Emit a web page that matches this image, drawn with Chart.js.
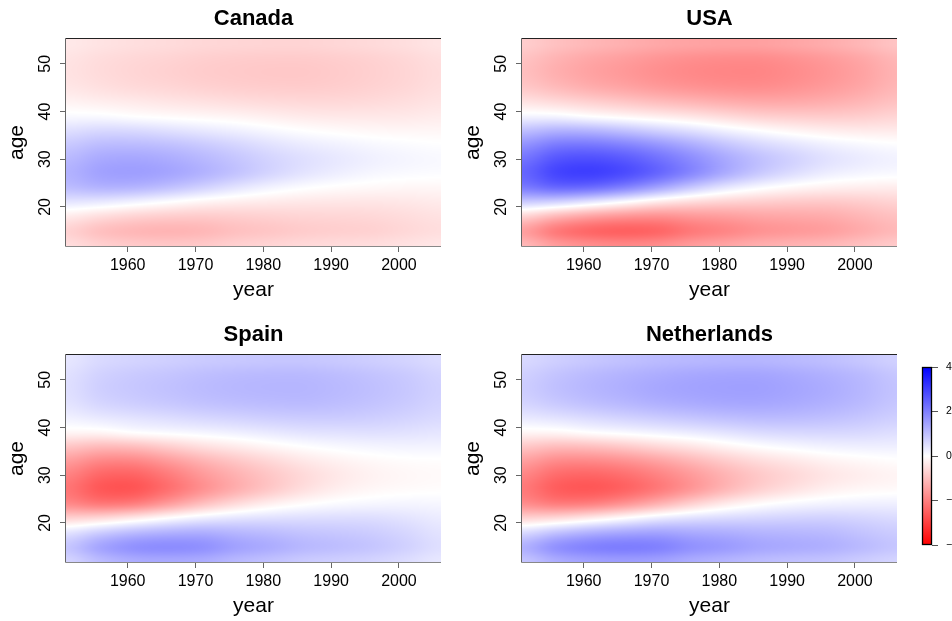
<!DOCTYPE html>
<html>
<head>
<meta charset="utf-8">
<title>Age-period surfaces by country</title>
<script src="https://cdn.jsdelivr.net/npm/chart.js@4.4.1/dist/chart.umd.min.js"></script>
<style>
  html, body { margin: 0; padding: 0; background: #fff; width: 952px; height: 621px; overflow: hidden; }
  .panel { position: absolute; }
  canvas { display: block; }
</style>
</head>
<body>
<div class="panel" style="left:0px;top:0px"><canvas id="p0" width="476" height="310"></canvas></div>
<div class="panel" style="left:456px;top:0px"><canvas id="p1" width="476" height="310"></canvas></div>
<div class="panel" style="left:0px;top:316px"><canvas id="p2" width="476" height="310"></canvas></div>
<div class="panel" style="left:456px;top:316px"><canvas id="p3" width="476" height="310"></canvas></div>
<div class="panel" style="left:880px;top:340px"><canvas id="bar" width="120" height="240"></canvas></div>
<script>
// Grid of the surfaces: one row per age, one column per year
const years = [1951, 1956, 1961, 1966, 1971, 1976, 1981, 1986, 1991, 1996, 2001, 2006];
const ages = [12, 15, 18, 21, 24, 27, 30, 33, 36, 39, 42, 45, 48, 51, 54];

const yearTicks = [1960, 1970, 1980, 1990, 2000];
const ageTicks = [20, 30, 40, 50];
const legendTicks = [-4, -2, 0, 2, 4];
const countries = ['Canada', 'USA', 'Spain', 'Netherlands'];

const canada = [
  [-0.53, -0.74, -0.85, -0.88, -0.85, -0.74, -0.67, -0.60, -0.56, -0.53, -0.46, -0.39],
  [-0.70, -0.98, -1.12, -1.17, -1.12, -0.98, -0.89, -0.80, -0.75, -0.71, -0.61, -0.52],
  [-0.32, -0.53, -0.69, -0.78, -0.81, -0.76, -0.71, -0.66, -0.64, -0.61, -0.54, -0.46],
  [ 0.40,  0.33,  0.18,  0.00, -0.17, -0.27, -0.33, -0.37, -0.39, -0.40, -0.37, -0.32],
  [ 1.02,  1.16,  1.13,  0.95,  0.69,  0.41,  0.18,  0.03, -0.06, -0.11, -0.14, -0.14],
  [ 1.20,  1.45,  1.50,  1.40,  1.19,  0.92,  0.64,  0.41,  0.25,  0.13,  0.07,  0.04],
  [ 1.10,  1.34,  1.39,  1.30,  1.12,  0.90,  0.67,  0.49,  0.35,  0.23,  0.15,  0.10],
  [ 0.86,  1.04,  1.06,  0.98,  0.83,  0.65,  0.46,  0.31,  0.21,  0.12,  0.06,  0.02],
  [ 0.50,  0.60,  0.58,  0.48,  0.36,  0.24,  0.11,  0.00, -0.07, -0.12, -0.14, -0.14],
  [ 0.09,  0.08,  0.00, -0.06, -0.12, -0.18, -0.26, -0.33, -0.36, -0.36, -0.35, -0.30],
  [-0.19, -0.26, -0.33, -0.40, -0.46, -0.52, -0.57, -0.60, -0.60, -0.57, -0.51, -0.43],
  [-0.38, -0.48, -0.57, -0.63, -0.70, -0.75, -0.78, -0.79, -0.76, -0.70, -0.62, -0.51],
  [-0.45, -0.56, -0.65, -0.72, -0.79, -0.83, -0.86, -0.86, -0.81, -0.74, -0.65, -0.54],
  [-0.43, -0.54, -0.62, -0.68, -0.75, -0.79, -0.81, -0.81, -0.77, -0.71, -0.62, -0.51],
  [-0.35, -0.44, -0.51, -0.56, -0.62, -0.65, -0.67, -0.67, -0.63, -0.58, -0.51, -0.42]
];

const usa = [
  [-1.12, -1.58, -1.80, -1.88, -1.80, -1.58, -1.43, -1.28, -1.20, -1.13, -0.98, -0.83],
  [-1.48, -2.08, -2.38, -2.48, -2.39, -2.09, -1.90, -1.70, -1.60, -1.50, -1.30, -1.10],
  [-0.68, -1.13, -1.46, -1.66, -1.73, -1.61, -1.52, -1.41, -1.36, -1.30, -1.14, -0.98],
  [ 0.79,  0.66,  0.36,  0.00, -0.36, -0.58, -0.71, -0.78, -0.84, -0.86, -0.79, -0.69],
  [ 2.03,  2.32,  2.25,  1.90,  1.38,  0.82,  0.36,  0.06, -0.13, -0.24, -0.29, -0.30],
  [ 2.40,  2.90,  3.00,  2.79,  2.37,  1.83,  1.27,  0.82,  0.50,  0.26,  0.14,  0.08],
  [ 2.19,  2.67,  2.77,  2.60,  2.24,  1.80,  1.34,  0.97,  0.69,  0.45,  0.30,  0.20],
  [ 1.71,  2.08,  2.12,  1.95,  1.65,  1.29,  0.92,  0.62,  0.41,  0.23,  0.11,  0.04],
  [ 1.00,  1.19,  1.15,  0.96,  0.71,  0.47,  0.21,  0.00, -0.16, -0.27, -0.32, -0.32],
  [ 0.17,  0.15,  0.00, -0.13, -0.27, -0.41, -0.58, -0.73, -0.79, -0.81, -0.77, -0.67],
  [-0.43, -0.57, -0.73, -0.88, -1.03, -1.15, -1.27, -1.34, -1.33, -1.26, -1.13, -0.96],
  [-0.85, -1.06, -1.26, -1.41, -1.56, -1.67, -1.74, -1.76, -1.68, -1.55, -1.37, -1.14],
  [-1.00, -1.25, -1.45, -1.60, -1.75, -1.85, -1.90, -1.90, -1.80, -1.65, -1.45, -1.20],
  [-0.95, -1.19, -1.38, -1.52, -1.66, -1.76, -1.81, -1.81, -1.71, -1.57, -1.38, -1.14],
  [-0.78, -0.98, -1.13, -1.25, -1.37, -1.44, -1.48, -1.48, -1.40, -1.29, -1.13, -0.94]
];

const spain = [
  [ 0.67,  1.07,  1.30,  1.35,  1.30,  1.11,  0.97,  0.83,  0.76,  0.68,  0.54,  0.37],
  [ 0.89,  1.41,  1.71,  1.79,  1.72,  1.46,  1.29,  1.11,  1.01,  0.90,  0.72,  0.50],
  [ 0.41,  0.77,  1.05,  1.20,  1.25,  1.13,  1.03,  0.92,  0.86,  0.78,  0.63,  0.44],
  [-0.71, -0.59, -0.32,  0.00,  0.26,  0.41,  0.48,  0.51,  0.53,  0.52,  0.43,  0.31],
  [-1.83, -2.09, -1.98, -1.52, -0.99, -0.56, -0.24, -0.04,  0.08,  0.14,  0.16,  0.14],
  [-2.16, -2.61, -2.64, -2.23, -1.71, -1.24, -0.84, -0.49, -0.25, -0.12, -0.06, -0.03],
  [-1.97, -2.40, -2.44, -2.08, -1.61, -1.22, -0.88, -0.58, -0.35, -0.20, -0.12, -0.08],
  [-1.54, -1.87, -1.87, -1.56, -1.19, -0.88, -0.61, -0.37, -0.21, -0.10, -0.04, -0.02],
  [-0.90, -1.07, -1.01, -0.77, -0.51, -0.32, -0.14,  0.00,  0.10,  0.16,  0.19,  0.19],
  [-0.15, -0.14,  0.00,  0.08,  0.16,  0.25,  0.35,  0.44,  0.47,  0.49,  0.46,  0.40],
  [ 0.22,  0.34,  0.44,  0.53,  0.62,  0.69,  0.76,  0.80,  0.80,  0.76,  0.68,  0.58],
  [ 0.43,  0.64,  0.76,  0.85,  0.94,  1.00,  1.04,  1.06,  1.01,  0.93,  0.82,  0.68],
  [ 0.50,  0.75,  0.87,  0.96,  1.05,  1.11,  1.14,  1.14,  1.08,  0.99,  0.87,  0.72],
  [ 0.48,  0.71,  0.83,  0.91,  1.00,  1.06,  1.09,  1.09,  1.03,  0.94,  0.83,  0.68],
  [ 0.39,  0.59,  0.68,  0.75,  0.82,  0.86,  0.89,  0.89,  0.84,  0.77,  0.68,  0.56]
];

const netherlands = [
  [ 0.92,  1.30,  1.48,  1.54,  1.48,  1.30,  1.17,  1.05,  0.98,  0.93,  0.80,  0.68],
  [ 1.21,  1.71,  1.95,  2.03,  1.96,  1.71,  1.56,  1.39,  1.31,  1.23,  1.07,  0.90],
  [ 0.56,  0.93,  1.20,  1.36,  1.42,  1.32,  1.25,  1.16,  1.12,  1.07,  0.93,  0.80],
  [-0.69, -0.57, -0.31,  0.00,  0.30,  0.48,  0.58,  0.64,  0.69,  0.71,  0.65,  0.57],
  [-1.77, -2.02, -1.96, -1.65, -1.20, -0.71, -0.31, -0.05,  0.11,  0.20,  0.24,  0.25],
  [-2.09, -2.52, -2.61, -2.43, -2.06, -1.59, -1.10, -0.71, -0.44, -0.23, -0.12, -0.07],
  [-1.91, -2.32, -2.41, -2.26, -1.95, -1.57, -1.17, -0.84, -0.60, -0.39, -0.26, -0.17],
  [-1.49, -1.81, -1.84, -1.70, -1.44, -1.12, -0.80, -0.54, -0.36, -0.20, -0.10, -0.03],
  [-0.87, -1.04, -1.00, -0.84, -0.62, -0.41, -0.18,  0.00,  0.12,  0.21,  0.25,  0.25],
  [-0.15, -0.13,  0.00,  0.10,  0.21,  0.32,  0.45,  0.57,  0.62,  0.63,  0.60,  0.52],
  [ 0.34,  0.44,  0.57,  0.69,  0.80,  0.90,  0.99,  1.05,  1.04,  0.98,  0.88,  0.75],
  [ 0.66,  0.83,  0.98,  1.10,  1.22,  1.30,  1.36,  1.37,  1.31,  1.21,  1.07,  0.89],
  [ 0.78,  0.98,  1.13,  1.25,  1.37,  1.44,  1.48,  1.48,  1.40,  1.29,  1.13,  0.94],
  [ 0.74,  0.93,  1.08,  1.19,  1.29,  1.37,  1.41,  1.41,  1.33,  1.22,  1.08,  0.89],
  [ 0.61,  0.76,  0.88,  0.98,  1.07,  1.12,  1.15,  1.15,  1.09,  1.01,  0.88,  0.73]
];

const grids = [canada, usa, spain, netherlands];

const FONT = '"Liberation Sans", Arial, Helvetica, sans-serif';
const ZMAX = 4;

// diverging palette: red (negative) - white - blue (positive)
function colorOf(v) {
  const t = Math.min(Math.abs(v) / ZMAX, 1);
  const k = Math.round(255 * (1 - t));
  return v >= 0 ? [k, k, 255] : [255, k, k];
}

// smooth (Catmull-Rom) sampling of a grid between its nodes
function cr(p0, p1, p2, p3, t) {
  return 0.5 * (2 * p1 + (-p0 + p2) * t + (2 * p0 - 5 * p1 + 4 * p2 - p3) * t * t + (-p0 + 3 * p1 - 3 * p2 + p3) * t * t * t);
}
function sampleGrid(grid, yr, age) {
  const nC = years.length, nR = ages.length;
  let fc = (yr - years[0]) / (years[1] - years[0]);
  let fr = (age - ages[0]) / (ages[1] - ages[0]);
  fc = Math.max(0, Math.min(nC - 1, fc));
  fr = Math.max(0, Math.min(nR - 1, fr));
  const c1 = Math.min(Math.floor(fc), nC - 2), tc = fc - c1;
  const r1 = Math.min(Math.floor(fr), nR - 2), tr = fr - r1;
  const cc = k => Math.max(0, Math.min(nC - 1, k));
  const rr = k => Math.max(0, Math.min(nR - 1, k));
  const rowVals = [];
  for (let d = -1; d <= 2; d++) {
    const row = grid[rr(r1 + d)];
    rowVals.push(cr(row[cc(c1 - 1)], row[cc(c1)], row[cc(c1 + 1)], row[cc(c1 + 2)], tc));
  }
  return cr(rowVals[0], rowVals[1], rowVals[2], rowVals[3], tr);
}

// paints the surface inside the plotting area through the chart's scales
const heatPlugin = {
  id: 'heat',
  beforeDatasetsDraw(chart, args, opts) {
    const { ctx, chartArea: a, scales: { x, y } } = chart;
    const left = Math.round(a.left), top = Math.round(a.top);
    const w = Math.round(a.right) - left, h = Math.round(a.bottom) - top;
    const off = document.createElement('canvas');
    off.width = w; off.height = h;
    const octx = off.getContext('2d');
    const img = octx.createImageData(w, h);
    for (let j = 0; j < h; j++) {
      const age = y.getValueForPixel(top + j + 0.5);
      for (let i = 0; i < w; i++) {
        const yr = x.getValueForPixel(left + i + 0.5);
        const c = colorOf(sampleGrid(opts.grid, yr, age));
        const p = (j * w + i) * 4;
        img.data[p] = c[0]; img.data[p + 1] = c[1]; img.data[p + 2] = c[2]; img.data[p + 3] = 255;
      }
    }
    octx.putImageData(img, 0, 0);
    ctx.drawImage(off, left, top);
  }
};

// plot frame: dark top edge, grey axis lines on the left and bottom
const framePlugin = {
  id: 'frame',
  afterDraw(chart) {
    const { ctx, chartArea: a } = chart;
    const l = Math.round(a.left) - 0.5, r = Math.round(a.right), t = Math.round(a.top) - 0.5, b = Math.round(a.bottom) + 0.5;
    ctx.save();
    ctx.lineWidth = 1;
    ctx.strokeStyle = '#222';
    ctx.beginPath(); ctx.moveTo(l, t); ctx.lineTo(r, t); ctx.stroke();
    ctx.strokeStyle = '#666';
    ctx.beginPath(); ctx.moveTo(l, t); ctx.lineTo(l, b); ctx.stroke();
    ctx.strokeStyle = '#888';
    ctx.beginPath(); ctx.moveTo(l, b); ctx.lineTo(r, b); ctx.stroke();
    ctx.restore();
  }
};

function makePanel(id, title, grid) {
  return new Chart(document.getElementById(id), {
    type: 'scatter',
    data: { datasets: [] },
    options: {
      responsive: false,
      animation: false,
      devicePixelRatio: 1,
      events: [],
      layout: { padding: { left: 0, right: 35, top: 0, bottom: 0 } },
      plugins: {
        legend: { display: false },
        tooltip: { enabled: false },
        title: {
          display: true, text: title, fullSize: false, color: '#000',
          font: { family: FONT, size: 22, weight: 'bold', lineHeight: 1.2 },
          padding: { top: 6, bottom: 6.6 }
        },
        heat: { grid }
      },
      scales: {
        x: {
          type: 'linear', min: 1950.9, max: 2006.2,
          afterBuildTicks: s => { s.ticks = yearTicks.map(v => ({ value: v })); },
          afterFit: s => { s.height = 64; },
          grid: { drawOnChartArea: false, drawTicks: true, tickLength: 6, color: '#666' },
          border: { display: false },
          ticks: { color: '#000', font: { family: FONT, size: 16 }, padding: 3.6, maxRotation: 0, minRotation: 0, autoSkip: false, callback: v => String(v) },
          title: { display: true, text: 'year', color: '#000', font: { family: FONT, size: 21, lineHeight: 1.2 }, padding: { top: 0, bottom: 7 } }
        },
        y: {
          type: 'linear', min: 11.8, max: 55.2,
          afterBuildTicks: s => { s.ticks = ageTicks.map(v => ({ value: v })); },
          afterFit: s => { s.width = 66; },
          grid: { drawOnChartArea: false, drawTicks: true, tickLength: 6, color: '#666' },
          border: { display: false },
          ticks: { color: '#000', font: { family: FONT, size: 16 }, padding: 5.6, minRotation: 90, maxRotation: 90, crossAlign: 'center', autoSkip: false, callback: v => String(v) },
          title: { display: true, text: 'age', color: '#000', font: { family: FONT, size: 21, lineHeight: 1.2 }, padding: { top: 4.5, bottom: 0 } }
        }
      }
    },
    plugins: [heatPlugin, framePlugin]
  });
}

countries.forEach((name, i) => makePanel('p' + i, name, grids[i]));

// colour legend strip
const barPlugin = {
  id: 'colorbar',
  beforeDatasetsDraw(chart) {
    const { ctx, chartArea: a, scales: { y } } = chart;
    const y0 = y.getPixelForValue(legendTicks[0]);
    const y1 = y.getPixelForValue(legendTicks[legendTicks.length - 1]);
    const g = ctx.createLinearGradient(0, y0, 0, y1);
    const lo = colorOf(legendTicks[0]), hi = colorOf(legendTicks[legendTicks.length - 1]);
    g.addColorStop(0, `rgb(${lo.join(',')})`);
    g.addColorStop(0.5, 'rgb(255,255,255)');
    g.addColorStop(1, `rgb(${hi.join(',')})`);
    ctx.save();
    ctx.fillStyle = g;
    ctx.fillRect(a.left, y1, a.right - a.left, y0 - y1);
    ctx.lineWidth = 1.3;
    ctx.strokeStyle = '#000';
    ctx.strokeRect(Math.round(a.left) + 0.5, Math.round(y1) + 0.5, Math.round(a.right - a.left) - 1, Math.round(y0 - y1) - 1);
    ctx.restore();
  }
};

new Chart(document.getElementById('bar'), {
  type: 'scatter',
  data: { datasets: [] },
  options: {
    responsive: false,
    animation: false,
    devicePixelRatio: 1,
    events: [],
    layout: { padding: { left: 42, right: 0, top: 27, bottom: 35 } },
    plugins: { legend: { display: false }, tooltip: { enabled: false }, title: { display: false } },
    scales: {
      x: { type: 'linear', display: false, min: 0, max: 1 },
      y: {
        type: 'linear', position: 'right', min: legendTicks[0], max: legendTicks[legendTicks.length - 1],
        afterBuildTicks: s => { s.ticks = legendTicks.map(v => ({ value: v })); },
        afterFit: s => { s.width = 68; },
        grid: { drawOnChartArea: false, drawTicks: true, tickLength: 6, color: '#555' },
        border: { display: false },
        ticks: {
          color: '#000', font: { family: FONT, size: 10.5 }, padding: 8, autoSkip: false,
          callback: v => (v < 0 ? '\u2212' + Math.abs(v) : String(v))
        }
      }
    }
  },
  plugins: [barPlugin]
});
</script>
</body>
</html>
